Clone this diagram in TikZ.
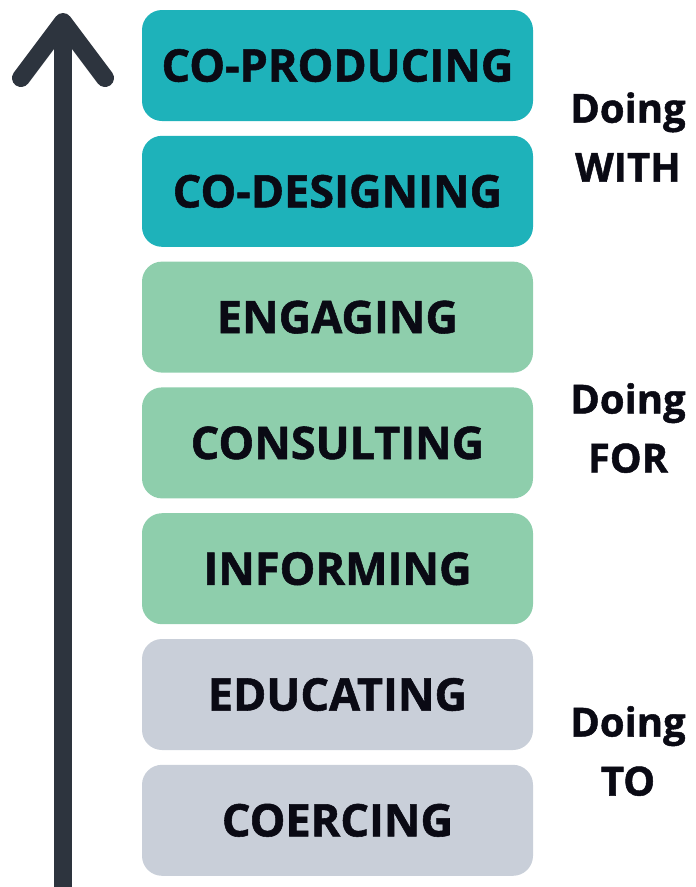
\documentclass[tikz,border=0pt]{standalone}
\usepackage{fontspec}
\setmainfont{Open Sans}[BoldFeatures={FakeBold=1.2}]
\definecolor{withcol}{RGB}{30,178,186}
\definecolor{forcol}{RGB}{142,206,172}
\definecolor{tocol}{RGB}{201,207,217}
\definecolor{arrowcol}{RGB}{45,52,62}
\definecolor{inkcol}{RGB}{10,10,20}
\tikzset{
  stage/.style={rounded corners=20pt, minimum width=391pt, minimum height=111pt,
    inner sep=0pt, text=inkcol, font=\fontsize{45}{50}\selectfont\bfseries},
  side/.style={align=center, inner sep=0pt, text=inkcol,
    font=\fontsize{40}{59}\selectfont\bfseries}
}
\begin{document}
\begin{tikzpicture}[x=1pt,y=-1pt]
    \useasboundingbox (0,0) rectangle (696,887);
    % the ladder
    \foreach \i/\lbl/\col in {0/CO-PRODUCING/withcol, 1/CO-DESIGNING/withcol,
        2/ENGAGING/forcol, 3/CONSULTING/forcol, 4/INFORMING/forcol,
        5/EDUCATING/tocol, 6/COERCING/tocol}
        \node[stage, fill=\col] (s\i) at (337.5, {65.5+125.8*\i}) {\lbl};
    % arrow up the side
    \coordinate (foot) at (63,887);
    \coordinate (tip) at (63,22);
    \draw[arrowcol, line width=18pt] (foot) -- (tip);
    \draw[arrowcol, line width=18pt, line cap=round, line join=round]
        (21,78) -- (tip) -- (105,78);
    % groups
    \node[side] (with) at (628,137) {Doing\\WITH};
    \node[side] (for) at (628,428) {Doing\\FOR};
    \node[side] (to) at (628,751) {Doing\\TO};
\end{tikzpicture}
\end{document}
